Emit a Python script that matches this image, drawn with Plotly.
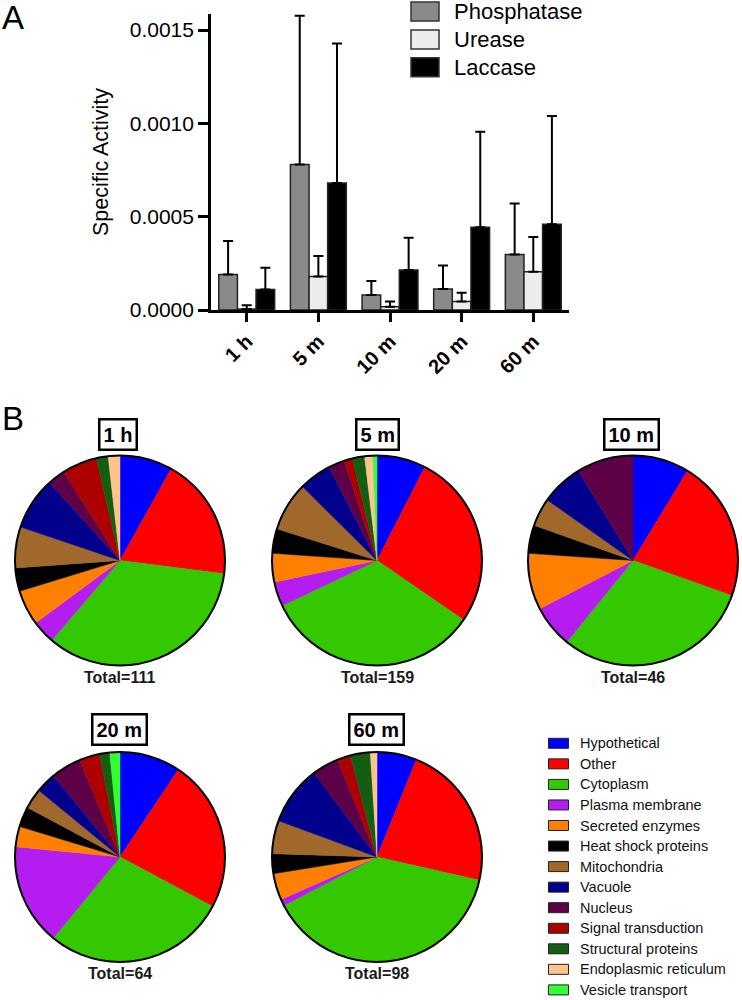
import plotly.graph_objects as go

# ---------------- data ----------------
time_points = ["1 h", "5 m", "10 m", "20 m", "60 m"]
enzymes = ["Phosphatase", "Urease", "Laccase"]
phosphatase = [0.00019, 0.00078, 0.00008, 0.000112, 0.000298]
phosphatase_err = [0.00018, 0.000797, 0.000075, 0.000126, 0.000272]
urease = [0.000005, 0.00018, 0.000018, 0.000045, 0.000205]
urease_err = [0.00002, 0.00011, 0.000028, 0.000048, 0.000186]
laccase = [0.00011, 0.00068, 0.000214, 0.000443, 0.00046]
laccase_err = [0.000117, 0.000748, 0.000173, 0.000512, 0.00058]

categories = ["Hypothetical", "Other", "Cytoplasm", "Plasma membrane",
              "Secreted enzymes", "Heat shock proteins", "Mitochondria",
              "Vacuole", "Nucleus", "Signal transduction",
              "Structural proteins", "Endoplasmic reticulum", "Vesicle transport"]
pie_titles = ["1 h", "5 m", "10 m", "20 m", "60 m"]
counts_1h = [9, 21, 38, 4, 6, 4, 7, 9, 3, 6, 2, 2, 0]
counts_5m = [12, 43, 53, 6, 7, 6, 12, 8, 4, 2, 3, 2, 1]
counts_10m = [4, 10, 14, 3, 4, 2, 2, 3, 4, 0, 0, 0, 0]
counts_20m = [6, 15, 18, 10, 2, 2, 2, 2, 3, 2, 1, 0, 1]
counts_60m = [6, 22, 38, 1, 4, 3, 5, 9, 4, 2, 3, 1, 0]

# ---------------- styles ----------------
W, H = 742, 1000
FONT = "Liberation Sans, Arial, sans-serif"
bar_colors = ["#8a8a8a", "#ececec", "#000000"]
cat_colors = ["#0000ff", "#ff0000", "#33c800", "#b41cf0", "#ff8000", "#000000",
              "#a0682a", "#00008c", "#5e0048", "#ad0000", "#145e14", "#ffc48c",
              "#33ff33"]


def px(x):
    return x / W


def py(y):
    return 1 - y / H


fig = go.Figure()

# ---------------- panel A: bars ----------------
for name, vals, errs, col in zip(enzymes, [phosphatase, urease, laccase],
                                 [phosphatase_err, urease_err, laccase_err],
                                 bar_colors):
    fig.add_trace(go.Bar(
        x=time_points, y=vals, name=name, showlegend=False,
        marker=dict(color=col, line=dict(color="#222222", width=1.5)),
        error_y=dict(type="data", symmetric=False, array=errs,
                     arrayminus=[0] * len(errs), color="black",
                     thickness=2, width=5),
    ))

fig.update_layout(
    barmode="group", bargap=0.22, bargroupgap=0,
    xaxis=dict(domain=[px(210.9), px(569.1)], range=[-0.5, 4.5],
               showline=True, linecolor="black", linewidth=2.5,
               ticks="outside", ticklen=9, tickwidth=2.5, tickcolor="black",
               tickangle=-45, showgrid=False, zeroline=False, automargin=False,
               tickfont=dict(family=FONT, size=20, color="black", weight="bold")),
    yaxis=dict(domain=[py(310), py(14)], range=[0, 0.001586],
               tickvals=[0, 0.0005, 0.001, 0.0015], tickformat=".4f",
               showline=True, linecolor="black", linewidth=2.5,
               ticks="outside", ticklen=10, tickwidth=2.5, tickcolor="black",
               showgrid=False, zeroline=False, automargin=False,
               tickfont=dict(family=FONT, size=21, color="black"),
               title=dict(text="Specific Activity", standoff=16,
                          font=dict(family=FONT, size=21.5, color="black"))),
)

# bar legend (drawn manually)
shapes = []
annotations = []
leg_rows = [11.5, 39.5, 67.3]
for name, col, yc in zip(enzymes, bar_colors, leg_rows):
    shapes.append(dict(type="rect", xref="paper", yref="paper",
                       x0=px(411), x1=px(439), y0=py(yc + 9.5), y1=py(yc - 9.5),
                       fillcolor=col, line=dict(color="#333333", width=1.5)))
    annotations.append(dict(text=name, xref="paper", yref="paper",
                            x=px(452), y=py(yc), xanchor="left", yanchor="middle",
                            showarrow=False,
                            font=dict(family=FONT, size=22, color="black")))

# panel letters
annotations.append(dict(text="A", xref="paper", yref="paper", x=px(0), y=py(-3),
                        xanchor="left", yanchor="top", showarrow=False,
                        font=dict(family=FONT, size=33, color="black")))
annotations.append(dict(text="B", xref="paper", yref="paper", x=px(0), y=py(398),
                        xanchor="left", yanchor="top", showarrow=False,
                        font=dict(family=FONT, size=33, color="black")))

# ---------------- panel B: pies ----------------
R = 105
pie_centers = [(120, 560.5), (377, 560.5), (633, 560.5), (120, 857), (377, 857)]
title_pos = [(118, 434.5), (377, 434.5), (631, 434.5), (119, 729.5), (376.5, 729.5)]
all_counts = [counts_1h, counts_5m, counts_10m, counts_20m, counts_60m]

for title, counts, (cx, cy), (tx, ty) in zip(pie_titles, all_counts, pie_centers, title_pos):
    fig.add_trace(go.Pie(
        labels=categories, values=counts, sort=False, direction="clockwise",
        rotation=0, textinfo="none", showlegend=False,
        marker=dict(colors=cat_colors,
                    line=dict(color=cat_colors,
                              width=[0.5 if c > 0 else 0 for c in counts])),
        domain=dict(x=[px(cx - R), px(cx + R)], y=[py(cy + R), py(cy - R)]),
    ))
    shapes.append(dict(type="circle", xref="paper", yref="paper",
                       x0=px(cx - R), x1=px(cx + R), y0=py(cy + R), y1=py(cy - R),
                       line=dict(color="black", width=2)))
    annotations.append(dict(text=title, xref="paper", yref="paper", x=px(tx), y=py(ty),
                            xanchor="center", yanchor="middle", showarrow=False,
                            bordercolor="black", borderwidth=2.5, borderpad=3,
                            bgcolor="white",
                            font=dict(family=FONT, size=20, color="black", weight="bold")))
    annotations.append(dict(text="Total=%d" % sum(counts), xref="paper", yref="paper",
                            x=px(cx), y=py(cy + 116.5), xanchor="center", yanchor="middle",
                            showarrow=False,
                            font=dict(family=FONT, size=16, color="#1a1a1a", weight="bold")))

# pie legend (drawn manually)
for i, (name, col) in enumerate(zip(categories, cat_colors)):
    yc = 743.3 + i * 20.55
    shapes.append(dict(type="rect", xref="paper", yref="paper",
                       x0=px(548.5), x1=px(568.5), y0=py(yc + 5), y1=py(yc - 5),
                       fillcolor=col, line=dict(color="#222222", width=1)))
    annotations.append(dict(text=name, xref="paper", yref="paper",
                            x=px(578), y=py(yc), xanchor="left", yanchor="middle",
                            showarrow=False,
                            font=dict(family=FONT, size=14.5, color="#111111")))

fig.update_layout(
    width=W, height=H, margin=dict(l=0, r=0, t=0, b=0),
    paper_bgcolor="white", plot_bgcolor="white",
    shapes=shapes, annotations=annotations,
    font=dict(family=FONT, color="black"),
)

fig.write_html("out.html",
               config={"displayModeBar": False},
               post_script="document.body.style.margin='0px';"
                           "document.body.style.overflow='hidden';")
